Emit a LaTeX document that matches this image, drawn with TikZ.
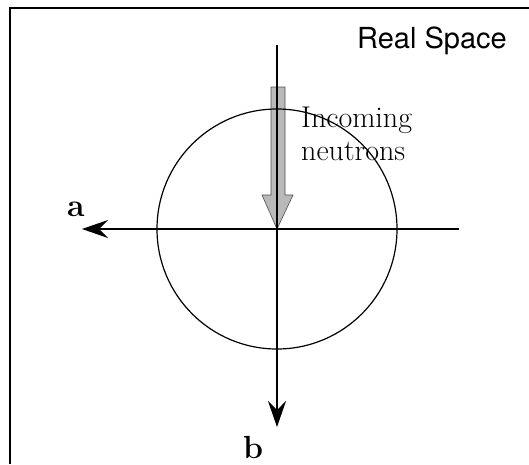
\documentclass[tikz,border=0pt]{standalone}
\usepackage{fontspec}
\newfontfamily\heros{TeX Gyre Heros}
\usetikzlibrary{arrows.meta,positioning}
\tikzset{
  axis/.style={line width=1.3pt, -{Stealth[length=26pt, width=18pt, inset=9pt]}},
  beam/.style={fill=gray!55, draw=gray!60!black, line width=0.6pt},
  lbl/.style={font=\fontsize{32}{36}\selectfont\bfseries, inner sep=0pt},
  txt/.style={font=\fontsize{30}{33}\selectfont, align=left, inner sep=0pt}
}

\begin{document}
\begin{tikzpicture}[x=1pt,y=-1pt]
\useasboundingbox (0,0) rectangle (529,464);
% frame (open on right and bottom)
\draw[line width=2pt] (10,464) -- (10,8) -- (529,8);
\node[anchor=base east, inner sep=0pt, font=\heros\fontsize{29}{30}\selectfont] (title) at (507,48) {Real Space};
\coordinate (O) at (277,229);
\coordinate (aStart) at (459,229);
\coordinate (aEnd) at (82,229);
\coordinate (bStart) at (277,45);
\coordinate (bEnd) at (277,427);
% incoming beam
\draw[beam] (271,87) -- (285,87) -- (285,195) -- (293,195) -- (O) -- (262,195) -- (271,195) -- cycle;
\draw[line width=1.2pt] (O) circle (120);
\draw[axis] (aStart) -- (aEnd);
\draw[axis] (bStart) -- (bEnd);
\node[lbl, anchor=base] (a) at (76,216) {a};
\node[lbl, anchor=base] (b) at (253,458) {b};
\node[txt, anchor=base west] (inc) at (301,160) {Incoming\\neutrons};
\end{tikzpicture}
\end{document}
